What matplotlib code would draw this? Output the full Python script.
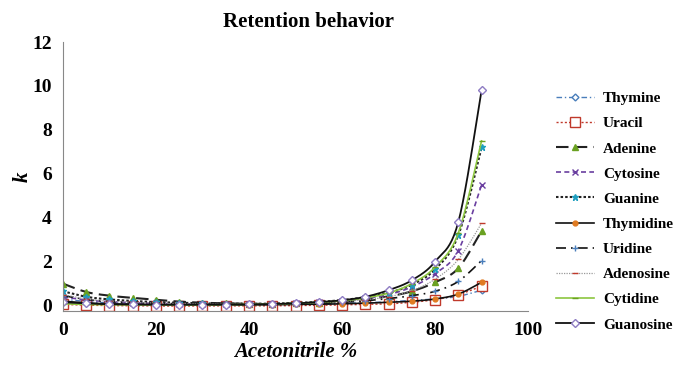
import matplotlib
matplotlib.use("Agg")
import matplotlib.pyplot as plt
from matplotlib.lines import Line2D
import numpy as np

acn = [0, 5, 10, 15, 20, 25, 30, 35, 40, 45, 50, 55, 60, 65, 70, 75, 80, 85, 90]

thymine = [0.30, 0.18, 0.12, 0.08, 0.06, 0.05, 0.04, 0.04, 0.04, 0.05, 0.06, 0.08, 0.10, 0.13, 0.17, 0.24, 0.30, 0.42, 0.70]
uracil = [0.05, 0.02, 0.00, -0.01, -0.02, -0.02, -0.02, -0.02, -0.01, -0.01, 0.00, 0.01, 0.03, 0.05, 0.08, 0.15, 0.27, 0.50, 0.88]
adenine = [1.00, 0.62, 0.45, 0.35, 0.26, 0.18, 0.13, 0.10, 0.08, 0.08, 0.10, 0.14, 0.20, 0.30, 0.42, 0.65, 1.06, 1.70, 3.40]
cytosine = [0.40, 0.25, 0.18, 0.13, 0.10, 0.08, 0.07, 0.06, 0.06, 0.07, 0.10, 0.15, 0.22, 0.33, 0.50, 0.85, 1.45, 2.50, 5.50]
guanine = [0.65, 0.40, 0.28, 0.21, 0.16, 0.13, 0.10, 0.09, 0.08, 0.09, 0.12, 0.17, 0.25, 0.38, 0.58, 0.95, 1.65, 3.20, 7.20]
thymidine = [0.20, 0.12, 0.08, 0.06, 0.04, 0.03, 0.03, 0.03, 0.03, 0.04, 0.05, 0.06, 0.08, 0.11, 0.15, 0.20, 0.30, 0.52, 1.06]
uridine = [0.45, 0.28, 0.18, 0.13, 0.10, 0.08, 0.06, 0.05, 0.05, 0.06, 0.08, 0.10, 0.15, 0.22, 0.32, 0.45, 0.65, 1.10, 2.05]
adenosine = [0.50, 0.30, 0.20, 0.15, 0.11, 0.09, 0.07, 0.06, 0.06, 0.07, 0.09, 0.13, 0.18, 0.27, 0.40, 0.68, 1.20, 2.10, 3.75]
cytidine = [0.08, 0.05, 0.04, 0.03, 0.03, 0.03, 0.03, 0.04, 0.05, 0.07, 0.10, 0.15, 0.22, 0.35, 0.57, 1.00, 1.75, 3.30, 7.50]
guanosine = [0.15, 0.10, 0.06, 0.05, 0.04, 0.04, 0.04, 0.04, 0.05, 0.07, 0.10, 0.16, 0.24, 0.40, 0.70, 1.15, 2.00, 3.80, 9.80]

names = ["Thymine", "Uracil", "Adenine", "Cytosine", "Guanine",
         "Thymidine", "Uridine", "Adenosine", "Cytidine", "Guanosine"]
values = [thymine, uracil, adenine, cytosine, guanine,
          thymidine, uridine, adenosine, cytidine, guanosine]

# line colour, line style, marker, marker face, marker edge, marker size, line width
styles = [
    ("#4a7ebb", (0, (4, 2, 1, 2)), "D", "white", "#4a7ebb", 3.5, 1.0),
    ("#c0392b", (0, (1.5, 1.5)), "s", "white", "#c0392b", 7, 1.0),
    ("#222222", (0, (6, 3)), "^", "#6aa121", "#6aa121", 4, 1.5),
    ("#6a3fa0", (0, (3, 2)), "x", "#6a3fa0", "#6a3fa0", 5, 1.2),
    ("#222222", (0, (1.2, 1.0)), "*", "#1f9fbf", "#1f9fbf", 5, 1.5),
    ("#111111", "-", "o", "#e07b22", "#e07b22", 3.5, 1.2),
    ("#111111", (0, (6, 3, 1, 3)), "+", "#4a7ebb", "#4a7ebb", 5, 1.2),
    ("#999999", (0, (1, 1)), "_", "#c0392b", "#c0392b", 4, 0.9),
    ("#8cc63f", "-", "_", "#6aa121", "#6aa121", 4, 1.2),
    ("#111111", "-", "D", "white", "#8e7cc3", 4.5, 1.3),
]


def smooth(x, y, n=12):
    # Excel-style smoothed line: cubic Bezier segments with Catmull-Rom control points
    x = np.asarray(x, float)
    y = np.asarray(y, float)
    px = np.concatenate([[x[0]], x, [x[-1]]])
    py = np.concatenate([[y[0]], y, [y[-1]]])
    t = np.linspace(0, 1, n)[:-1, None]
    out = []
    for i in range(1, len(px) - 2):
        p0 = np.array([px[i], py[i]])
        p3 = np.array([px[i + 1], py[i + 1]])
        c1 = p0 + (np.array([px[i + 1], py[i + 1]]) - np.array([px[i - 1], py[i - 1]])) / 6
        c2 = p3 - (np.array([px[i + 2], py[i + 2]]) - p0) / 6
        seg = ((1 - t) ** 3) * p0 + 3 * ((1 - t) ** 2) * t * c1 + 3 * (1 - t) * t ** 2 * c2 + t ** 3 * p3
        out.append(seg)
    out.append(np.array([[x[-1], y[-1]]]))
    out = np.vstack(out)
    return out[:, 0], out[:, 1]


plt.rcParams["font.family"] = ["Liberation Serif", "DejaVu Serif"]

fig = plt.figure(figsize=(6.77, 3.69), dpi=100)
ax = fig.add_axes([0.093, 0.157, 0.687, 0.729])

handles = []
for name, ys, (c, ls, mk, mfc, mec, ms, lw) in zip(names, values, styles):
    sx, sy = smooth(acn, ys)
    ax.plot(sx, sy, color=c, linestyle=ls, linewidth=lw)
    ax.plot(acn, ys, linestyle="none", marker=mk, markerfacecolor=mfc,
            markeredgecolor=mec, markersize=ms, markeredgewidth=1.0)
    handles.append(Line2D([], [], color=c, linestyle=ls, linewidth=lw, marker=mk,
                          markerfacecolor=mfc, markeredgecolor=mec,
                          markersize=ms, markeredgewidth=1.0, label=name))

ax.set_xlim(0, 100)
ax.set_ylim(-0.25, 12)
ax.set_xticks([0, 20, 40, 60, 80, 100])
ax.set_yticks([0, 2, 4, 6, 8, 10, 12])
ax.tick_params(length=0, labelsize=14, pad=8)
for lab in ax.get_xticklabels() + ax.get_yticklabels():
    lab.set_fontweight("bold")
ax.spines["top"].set_visible(False)
ax.spines["right"].set_visible(False)
ax.spines["left"].set_color("#888888")
ax.spines["bottom"].set_color("#888888")

fig.suptitle("Retention behavior", x=0.456, y=0.968, fontsize=15, fontweight="bold")
ax.set_xlabel("Acetonitrile %", fontsize=15, fontweight="bold", style="italic", labelpad=2)
ax.set_ylabel("k", fontsize=15, fontweight="bold", style="italic", labelpad=0)

ax.legend(handles=handles, loc="center left", bbox_to_anchor=(1.03, 0.37), frameon=False,
          prop={"weight": "bold", "size": 11}, labelspacing=0.75,
          handlelength=2.5, handletextpad=0.6)

fig.savefig("out.png", dpi=100)
